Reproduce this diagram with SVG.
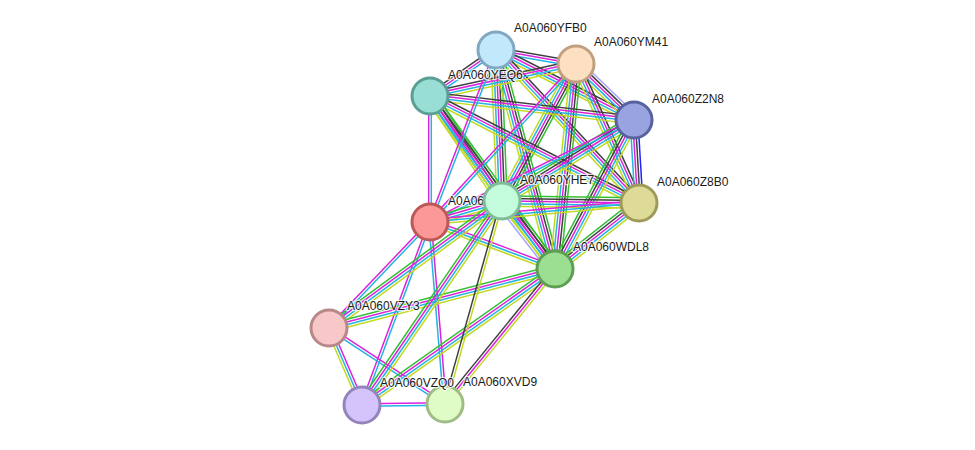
<svg xmlns="http://www.w3.org/2000/svg" width="975" height="450" viewBox="0 0 975 450">
<style>
line{stroke-width:1.5;fill:none}
.g{stroke:#33c033}.b{stroke:#2222ff}.k{stroke:#404040}.m{stroke:#dd22dd}.c{stroke:#22b4e2}.y{stroke:#c2da22}.h{stroke:#a4a4ff}
circle{stroke-width:3}
text{font-family:"Liberation Sans",Arial,sans-serif;font-size:12px;fill:#1a1a1a;stroke:#ffffff;stroke-width:2.5;stroke-opacity:0.75;paint-order:stroke;stroke-linejoin:round}
</style>
<rect width="975" height="450" fill="#ffffff"/>
<g id="connectors">
<!-- FB0-M41 -->
<g transform="translate(496,50) rotate(9.93)"><line x2="81.2" y1="-2.6" y2="-2.6" class="k"/><line x2="81.2" y1="0" y2="0" class="m"/><line x2="81.2" y1="2.6" y2="2.6" class="c"/></g>
<!-- EQ6-FB0 -->
<g transform="translate(430,96) rotate(-34.87)"><line x2="80.4" y1="-2.6" y2="-2.6" class="k"/><line x2="80.4" y1="0" y2="0" class="m"/><line x2="80.4" y1="2.6" y2="2.6" class="c"/></g>
<!-- FB0-N8 -->
<g transform="translate(496,50) rotate(26.90)"><line x2="154.7" y1="-3.9" y2="-3.9" class="k"/><line x2="154.7" y1="-1.3" y2="-1.3" class="m"/><line x2="154.7" y1="1.3" y2="1.3" class="c"/><line x2="154.7" y1="3.9" y2="3.9" class="y"/></g>
<!-- FB0-HE7 -->
<g transform="translate(496,50) rotate(87.72)"><line x2="151.1" y1="-5.2" y2="-5.2" class="g"/><line x2="151.1" y1="-2.6" y2="-2.6" class="k"/><line x2="151.1" y1="0" y2="0" class="m"/><line x2="151.1" y1="2.6" y2="2.6" class="c"/><line x2="151.1" y1="5.2" y2="5.2" class="y"/></g>
<!-- FB0-B0 -->
<g transform="translate(496,50) rotate(46.93)"><line x2="209.4" y1="-3.9" y2="-3.9" class="k"/><line x2="209.4" y1="-1.3" y2="-1.3" class="m"/><line x2="209.4" y1="1.3" y2="1.3" class="c"/><line x2="209.4" y1="3.9" y2="3.9" class="y"/></g>
<!-- FB0-DL8 -->
<g transform="translate(496,50) rotate(74.92)"><line x2="226.8" y1="-5.2" y2="-5.2" class="g"/><line x2="226.8" y1="-2.6" y2="-2.6" class="k"/><line x2="226.8" y1="0" y2="0" class="m"/><line x2="226.8" y1="2.6" y2="2.6" class="c"/><line x2="226.8" y1="5.2" y2="5.2" class="y"/></g>
<!-- EQ6-M41 -->
<g transform="translate(430,96) rotate(-12.36)"><line x2="149.5" y1="-3.9" y2="-3.9" class="k"/><line x2="149.5" y1="-1.3" y2="-1.3" class="m"/><line x2="149.5" y1="1.3" y2="1.3" class="c"/><line x2="149.5" y1="3.9" y2="3.9" class="y"/></g>
<!-- M41-N8 -->
<g transform="translate(576,64) rotate(43.99)"><line x2="80.6" y1="-5.2" y2="-5.2" class="h"/><line x2="80.6" y1="-2.6" y2="-2.6" class="k"/><line x2="80.6" y1="0" y2="0" class="m"/><line x2="80.6" y1="2.6" y2="2.6" class="c"/><line x2="80.6" y1="5.2" y2="5.2" class="y"/></g>
<!-- M41-HE7 -->
<g transform="translate(576,64) rotate(118.37)"><line x2="155.7" y1="-5.2" y2="-5.2" class="g"/><line x2="155.7" y1="-2.6" y2="-2.6" class="k"/><line x2="155.7" y1="0" y2="0" class="m"/><line x2="155.7" y1="2.6" y2="2.6" class="c"/><line x2="155.7" y1="5.2" y2="5.2" class="y"/></g>
<!-- M41-B0 -->
<g transform="translate(576,64) rotate(65.62)"><line x2="152.6" y1="-3.9" y2="-3.9" class="k"/><line x2="152.6" y1="-1.3" y2="-1.3" class="m"/><line x2="152.6" y1="1.3" y2="1.3" class="c"/><line x2="152.6" y1="3.9" y2="3.9" class="y"/></g>
<!-- M41-DL8 -->
<g transform="translate(576,64) rotate(95.85)"><line x2="206.1" y1="-5.2" y2="-5.2" class="g"/><line x2="206.1" y1="-2.6" y2="-2.6" class="k"/><line x2="206.1" y1="0" y2="0" class="m"/><line x2="206.1" y1="2.6" y2="2.6" class="c"/><line x2="206.1" y1="5.2" y2="5.2" class="y"/></g>
<!-- EQ6-N8 -->
<g transform="translate(430,96) rotate(6.71)"><line x2="205.4" y1="-3.9" y2="-3.9" class="k"/><line x2="205.4" y1="-1.3" y2="-1.3" class="m"/><line x2="205.4" y1="1.3" y2="1.3" class="c"/><line x2="205.4" y1="3.9" y2="3.9" class="y"/></g>
<!-- EQ6-HE7 -->
<g transform="translate(430,96) rotate(55.56)"><line x2="127.3" y1="-5.2" y2="-5.2" class="g"/><line x2="127.3" y1="-2.6" y2="-2.6" class="k"/><line x2="127.3" y1="0" y2="0" class="m"/><line x2="127.3" y1="2.6" y2="2.6" class="c"/><line x2="127.3" y1="5.2" y2="5.2" class="y"/></g>
<!-- EQ6-B0 -->
<g transform="translate(430,96) rotate(27.11)"><line x2="234.8" y1="-3.9" y2="-3.9" class="k"/><line x2="234.8" y1="-1.3" y2="-1.3" class="m"/><line x2="234.8" y1="1.3" y2="1.3" class="c"/><line x2="234.8" y1="3.9" y2="3.9" class="y"/></g>
<!-- EQ6-DL8 -->
<g transform="translate(430,96) rotate(54.15)"><line x2="213.4" y1="-5.2" y2="-5.2" class="g"/><line x2="213.4" y1="-2.6" y2="-2.6" class="k"/><line x2="213.4" y1="0" y2="0" class="m"/><line x2="213.4" y1="2.6" y2="2.6" class="c"/><line x2="213.4" y1="5.2" y2="5.2" class="y"/></g>
<!-- HE7-N8 -->
<g transform="translate(502,201) rotate(-31.53)"><line x2="154.9" y1="-5.2" y2="-5.2" class="g"/><line x2="154.9" y1="-2.6" y2="-2.6" class="k"/><line x2="154.9" y1="0" y2="0" class="m"/><line x2="154.9" y1="2.6" y2="2.6" class="c"/><line x2="154.9" y1="5.2" y2="5.2" class="y"/></g>
<!-- N8-B0 -->
<g transform="translate(634,120) rotate(86.55)"><line x2="83.2" y1="-3.9" y2="-3.9" class="b"/><line x2="83.2" y1="-1.3" y2="-1.3" class="k"/><line x2="83.2" y1="1.3" y2="1.3" class="m"/><line x2="83.2" y1="3.9" y2="3.9" class="c"/></g>
<!-- DL8-N8 -->
<g transform="translate(555,269) rotate(-62.07)"><line x2="168.6" y1="-5.2" y2="-5.2" class="g"/><line x2="168.6" y1="-2.6" y2="-2.6" class="k"/><line x2="168.6" y1="0" y2="0" class="m"/><line x2="168.6" y1="2.6" y2="2.6" class="c"/><line x2="168.6" y1="5.2" y2="5.2" class="y"/></g>
<!-- HE7-B0 -->
<g transform="translate(502,201) rotate(0.84)"><line x2="137" y1="-5.2" y2="-5.2" class="g"/><line x2="137" y1="-2.6" y2="-2.6" class="k"/><line x2="137" y1="0" y2="0" class="m"/><line x2="137" y1="2.6" y2="2.6" class="c"/><line x2="137" y1="5.2" y2="5.2" class="y"/></g>
<!-- HE7-DL8 -->
<g transform="translate(502,201) rotate(52.07)"><line x2="86.2" y1="-6.5" y2="-6.5" class="g"/><line x2="86.2" y1="-3.9" y2="-3.9" class="k"/><line x2="86.2" y1="-1.3" y2="-1.3" class="m"/><line x2="86.2" y1="1.3" y2="1.3" class="c"/><line x2="86.2" y1="3.9" y2="3.9" class="y"/><line x2="86.2" y1="6.5" y2="6.5" class="h"/></g>
<!-- DL8-B0 -->
<g transform="translate(555,269) rotate(-38.16)"><line x2="106.8" y1="-5.2" y2="-5.2" class="g"/><line x2="106.8" y1="-2.6" y2="-2.6" class="k"/><line x2="106.8" y1="0" y2="0" class="m"/><line x2="106.8" y1="2.6" y2="2.6" class="c"/><line x2="106.8" y1="5.2" y2="5.2" class="y"/></g>
<!-- RED edges -->
<g transform="translate(430,222) rotate(-90)"><line x2="126" y1="-1.3" y2="-1.3" class="m"/><line x2="126" y1="1.3" y2="1.3" class="c"/></g>
<g transform="translate(430,222) rotate(-69.00)"><line x2="184.2" y1="-1.3" y2="-1.3" class="m"/><line x2="184.2" y1="1.3" y2="1.3" class="c"/></g>
<g transform="translate(430,222) rotate(-47.26)"><line x2="215.1" y1="-1.3" y2="-1.3" class="m"/><line x2="215.1" y1="1.3" y2="1.3" class="c"/></g>
<g transform="translate(430,222) rotate(-26.57)"><line x2="228.1" y1="-1.3" y2="-1.3" class="m"/><line x2="228.1" y1="1.3" y2="1.3" class="c"/></g>
<g transform="translate(430,222) rotate(-16.26)"><line x2="75" y1="-3.9" y2="-3.9" class="g"/><line x2="75" y1="-1.3" y2="-1.3" class="m"/><line x2="75" y1="1.3" y2="1.3" class="c"/><line x2="75" y1="3.9" y2="3.9" class="y"/></g>
<g transform="translate(430,222) rotate(-5.19)"><line x2="209.9" y1="-2.6" y2="-2.6" class="m"/><line x2="209.9" y1="0" y2="0" class="c"/><line x2="209.9" y1="2.6" y2="2.6" class="y"/></g>
<g transform="translate(430,222) rotate(20.61)"><line x2="133.5" y1="-2.6" y2="-2.6" class="m"/><line x2="133.5" y1="0" y2="0" class="c"/><line x2="133.5" y1="2.6" y2="2.6" class="y"/></g>
<g transform="translate(329,328) rotate(-46.38)"><line x2="146.4" y1="-1.3" y2="-1.3" class="m"/><line x2="146.4" y1="1.3" y2="1.3" class="c"/></g>
<g transform="translate(362,405) rotate(-69.62)"><line x2="195.2" y1="-1.3" y2="-1.3" class="m"/><line x2="195.2" y1="1.3" y2="1.3" class="c"/></g>
<g transform="translate(430,222) rotate(85.29)"><line x2="182.6" y1="-1.3" y2="-1.3" class="m"/><line x2="182.6" y1="1.3" y2="1.3" class="c"/></g>
<!-- lower edges -->
<g transform="translate(329,328) rotate(-36.28)"><line x2="214.6" y1="-3.9" y2="-3.9" class="g"/><line x2="214.6" y1="-1.3" y2="-1.3" class="m"/><line x2="214.6" y1="1.3" y2="1.3" class="c"/><line x2="214.6" y1="3.9" y2="3.9" class="y"/></g>
<g transform="translate(329,328) rotate(-14.63)"><line x2="233.6" y1="-3.9" y2="-3.9" class="g"/><line x2="233.6" y1="-1.3" y2="-1.3" class="m"/><line x2="233.6" y1="1.3" y2="1.3" class="c"/><line x2="233.6" y1="3.9" y2="3.9" class="y"/></g>
<g transform="translate(329,328) rotate(66.80)"><line x2="83.8" y1="-2.6" y2="-2.6" class="m"/><line x2="83.8" y1="0" y2="0" class="c"/><line x2="83.8" y1="2.6" y2="2.6" class="y"/></g>
<g transform="translate(329,328) rotate(33.23)"><line x2="138.7" y1="-1.3" y2="-1.3" class="m"/><line x2="138.7" y1="1.3" y2="1.3" class="c"/></g>
<g transform="translate(362,405) rotate(-55.54)"><line x2="247.4" y1="-3.9" y2="-3.9" class="g"/><line x2="247.4" y1="-1.3" y2="-1.3" class="m"/><line x2="247.4" y1="1.3" y2="1.3" class="c"/><line x2="247.4" y1="3.9" y2="3.9" class="y"/></g>
<g transform="translate(362,405) rotate(-35.17)"><line x2="236.1" y1="-3.9" y2="-3.9" class="g"/><line x2="236.1" y1="-1.3" y2="-1.3" class="m"/><line x2="236.1" y1="1.3" y2="1.3" class="c"/><line x2="236.1" y1="3.9" y2="3.9" class="y"/></g>
<g transform="translate(362,405) rotate(-0.69)"><line x2="83" y1="-1.3" y2="-1.3" class="m"/><line x2="83" y1="1.3" y2="1.3" class="c"/></g>
<g transform="translate(445,404) rotate(-74.32)"><line x2="210.9" y1="-1.3" y2="-1.3" class="k"/><line x2="210.9" y1="1.3" y2="1.3" class="y"/></g>
<g transform="translate(445,404) rotate(-50.83)"><line x2="174.1" y1="-2.6" y2="-2.6" class="k"/><line x2="174.1" y1="0" y2="0" class="m"/><line x2="174.1" y1="2.6" y2="2.6" class="y"/></g>
</g>
<g id="n-FB0"><circle cx="496" cy="50" r="18" fill="#c2e8fb" stroke="#80a8c2"/><text x="514" y="32">A0A060YFB0</text></g>
<g id="n-M41"><circle cx="576" cy="64" r="18" fill="#fde0c2" stroke="#c0a080"/><text x="594" y="46">A0A060YM41</text></g>
<g id="n-EQ6"><circle cx="430" cy="96" r="18" fill="#98ded4" stroke="#5a9e94"/><text x="448" y="79">A0A060YEQ6</text></g>
<g id="n-N8"><circle cx="634" cy="120" r="18" fill="#99a3df" stroke="#5862a0"/><text x="652" y="103">A0A060Z2N8</text></g>
<g id="n-RED"><circle cx="430" cy="222" r="18" fill="#fd9898" stroke="#bd5858"/><text x="448" y="205">A0A060</text></g>
<g id="n-HE7"><circle cx="502" cy="201" r="18" fill="#c2fcdc" stroke="#80bc98"/><text x="520" y="184">A0A060YHE7</text></g>
<g id="n-B0"><circle cx="639" cy="203" r="18" fill="#dedb98" stroke="#9e9b58"/><text x="657" y="186">A0A060Z8B0</text></g>
<g id="n-DL8"><circle cx="555" cy="269" r="18" fill="#9cde92" stroke="#5e9e54"/><text x="573" y="251">A0A060WDL8</text></g>
<g id="n-ZY3"><circle cx="329" cy="328" r="18" fill="#f8c8c8" stroke="#b88888"/><text x="347" y="310">A0A060VZY3</text></g>
<g id="n-VD9"><circle cx="445" cy="404" r="18" fill="#e0fcc6" stroke="#a0bc86"/><text x="463" y="386">A0A060XVD9</text></g>
<g id="n-ZQ0"><circle cx="362" cy="405" r="18" fill="#d4c4fb" stroke="#9484bb"/><text x="380" y="387">A0A060VZQ0</text></g>
</svg>
